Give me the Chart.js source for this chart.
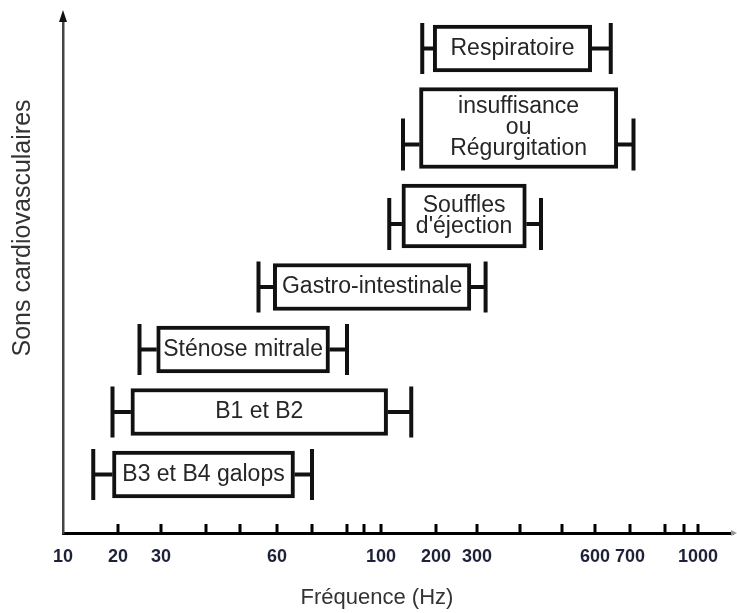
<!DOCTYPE html>
<html>
<head>
<meta charset="utf-8">
<script src="https://cdn.jsdelivr.net/npm/chart.js@4.4.0/dist/chart.umd.min.js"></script>
<style>
  body { margin: 0; background: #fff; }
</style>
</head>
<body>
<canvas id="freqChart" width="737" height="613"></canvas>
<script>
// sounds, top row first ("\n" splits the text inside the box)
const categories = ['Respiratoire', 'insuffisance\nou\nRégurgitation', "Souffles\nd'éjection",
  'Gastro-intestinale', 'Sténose mitrale', 'B1 et B2', 'B3 et B4 galops'];
// main frequency band of each sound (Hz)
const bandLow = [195, 170, 138, 59, 29, 23, 19];
const bandHigh = [590, 665, 415, 285, 75, 112, 65];
// whisker ends (Hz)
const rangeLow = [175, 140, 115, 55, 25, 19, 15.5];
const rangeHigh = [645, 710, 450, 320, 80, 155, 70];
// tick marks on the frequency axis and the values that get a label
const tickValues = [20, 30, 40, 50, 60, 70, 80, 90, 100, 200, 300, 400, 500, 600, 700, 800, 900, 1000];
const tickLabels = ['10', '20', '30', '60', '100', '200', '300', '600', '700', '1000'];

// the frequency axis is hand spaced: relative width of each step between knots
const axisKnots = [10, ...tickValues, 1100];
const axisGaps = [55, 43, 45, 34, 37, 35, 35, 17, 17, 55, 41, 43, 42, 33, 35, 35, 19, 14, 35];
const axisTotal = axisGaps.reduce((s, g) => s + g, 0);

class StretchedScale extends Chart.LinearScale {
  static id = 'stretched';
  static defaults = Chart.LinearScale.defaults;

  buildTicks() {
    return axisKnots.slice(0, -1).map(v => ({ value: v }));
  }
  toUnit(value) {
    let u = 0;
    for (let i = 0; i < axisGaps.length; i++) {
      const a = axisKnots[i], b = axisKnots[i + 1];
      if (value <= b || i === axisGaps.length - 1) {
        return u + axisGaps[i] * (value - a) / (b - a);
      }
      u += axisGaps[i];
    }
    return u;
  }
  getPixelForValue(value) {
    return this.left + this.width * this.toUnit(value) / axisTotal;
  }
  getValueForPixel(pixel) {
    let u = (pixel - this.left) / this.width * axisTotal;
    for (let i = 0; i < axisGaps.length; i++) {
      if (u <= axisGaps[i] || i === axisGaps.length - 1) {
        return axisKnots[i] + (axisKnots[i + 1] - axisKnots[i]) * u / axisGaps[i];
      }
      u -= axisGaps[i];
    }
    return this.max;
  }
}

// rows grow with the number of text lines in the box
const ROW_TOP = 5;
const ROW_GAP = 15.5;
const rowHeights = categories.map(c => 30 + 17 * c.split('\n').length);

class RowScale extends Chart.CategoryScale {
  static id = 'rows';
  static defaults = Chart.CategoryScale.defaults;

  getPixelForValue(value) {
    const idx = typeof value === 'number' ? value : this.getLabels().indexOf(value);
    let y = this.top + ROW_TOP;
    for (let i = 0; i < idx; i++) y += rowHeights[i] + ROW_GAP;
    return y + rowHeights[idx] / 2;
  }
}

Chart.register(StretchedScale, RowScale);

// whiskers and the text inside each box
const boxExtras = {
  id: 'boxExtras',
  afterDatasetsDraw(chart) {
    const { ctx, scales: { x } } = chart;
    chart.data.datasets.forEach((ds, i) => {
      const bar = chart.getDatasetMeta(i).data[0];
      const { x: right, base: left, y, height } = bar.getProps(['x', 'base', 'y', 'height'], true);
      const capH = Math.min(height + 4, 52);
      const capBottom = y + height / 2 + 2;
      const capY = capBottom - capH / 2;
      const wl = x.getPixelForValue(rangeLow[i]);
      const wr = x.getPixelForValue(rangeHigh[i]);

      ctx.save();
      ctx.strokeStyle = '#111';
      ctx.lineWidth = 4;
      ctx.beginPath();
      ctx.moveTo(wl, capY); ctx.lineTo(left, capY);
      ctx.moveTo(right, capY); ctx.lineTo(wr, capY);
      ctx.moveTo(wl, capBottom - capH); ctx.lineTo(wl, capBottom);
      ctx.moveTo(wr, capBottom - capH); ctx.lineTo(wr, capBottom);
      ctx.stroke();

      const lines = categories[i].split('\n');
      const lh = 21;
      ctx.fillStyle = '#262626';
      ctx.font = '23px "Liberation Sans", Arial, sans-serif';
      ctx.textAlign = 'center';
      ctx.textBaseline = 'middle';
      lines.forEach((t, k) => {
        ctx.fillText(t, (left + right) / 2, y - (lines.length - 1) * lh / 2 + k * lh);
      });
      ctx.restore();
    });
  }
};

// tick marks pointing up, axis arrows and axis titles
const axisDecor = {
  id: 'axisDecor',
  afterDraw(chart) {
    const { ctx, chartArea: area, scales: { x } } = chart;
    ctx.save();
    ctx.strokeStyle = '#000';
    ctx.lineWidth = 3;
    ctx.beginPath();
    tickValues.forEach(v => {
      const px = Math.round(x.getPixelForValue(v));
      ctx.moveTo(px, area.bottom);
      ctx.lineTo(px, area.bottom - 9);
    });
    ctx.stroke();

    // arrow on top of the vertical axis
    ctx.fillStyle = '#111';
    ctx.beginPath();
    ctx.moveTo(area.left, area.top - 10);
    ctx.lineTo(area.left - 4, area.top + 2);
    ctx.lineTo(area.left + 4, area.top + 2);
    ctx.closePath();
    ctx.fill();

    // small arrow at the right end of the frequency axis
    ctx.fillStyle = '#999';
    ctx.beginPath();
    ctx.moveTo(area.right + 4, area.bottom);
    ctx.lineTo(area.right - 2, area.bottom - 3);
    ctx.lineTo(area.right - 2, area.bottom + 3);
    ctx.closePath();
    ctx.fill();

    ctx.fillStyle = '#333';
    ctx.textAlign = 'center';
    ctx.textBaseline = 'middle';
    ctx.font = '22px "Liberation Sans", Arial, sans-serif';
    ctx.fillText('Fréquence (Hz)', 377, 598);

    ctx.font = '25px "Liberation Sans", Arial, sans-serif';
    ctx.translate(23, 228);
    ctx.rotate(-Math.PI / 2);
    ctx.fillText('Sons cardiovasculaires', 0, 0);
    ctx.restore();
  }
};

const datasets = categories.map((c, i) => ({
  data: [{ x: [bandLow[i], bandHigh[i]], y: c }],
  backgroundColor: '#fff',
  borderColor: '#111',
  borderWidth: 4,
  borderSkipped: false,
  barThickness: rowHeights[i],
  grouped: false
}));

const ctx = document.getElementById('freqChart').getContext('2d');
const freqChart = new Chart(ctx, {
  type: 'bar',
  data: { labels: categories, datasets: datasets },
  options: {
    indexAxis: 'y',
    responsive: false,
    animation: false,
    events: [],
    layout: { padding: { top: 20, right: 4, bottom: 0, left: 0 } },
    plugins: { legend: { display: false }, tooltip: { enabled: false } },
    scales: {
      x: {
        type: 'stretched',
        position: 'bottom',
        min: 10,
        max: 1100,
        grid: { display: false },
        border: { display: true, color: '#000', width: 3 },
        ticks: {
          autoSkip: false,
          maxRotation: 0,
          padding: 5,
          color: '#1d2238',
          font: { family: '"Liberation Sans", Arial, sans-serif', size: 18, weight: 'bold' },
          callback: v => tickLabels.includes(String(v)) ? String(v) : ''
        },
        afterFit: s => { s.height = 80; }
      },
      y: {
        type: 'rows',
        position: 'left',
        grid: { display: false },
        ticks: { display: false },
        border: { display: true, color: '#444', width: 2.5 },
        afterFit: s => { s.width = 63; }
      }
    }
  },
  plugins: [boxExtras, axisDecor]
});
</script>
</body>
</html>
